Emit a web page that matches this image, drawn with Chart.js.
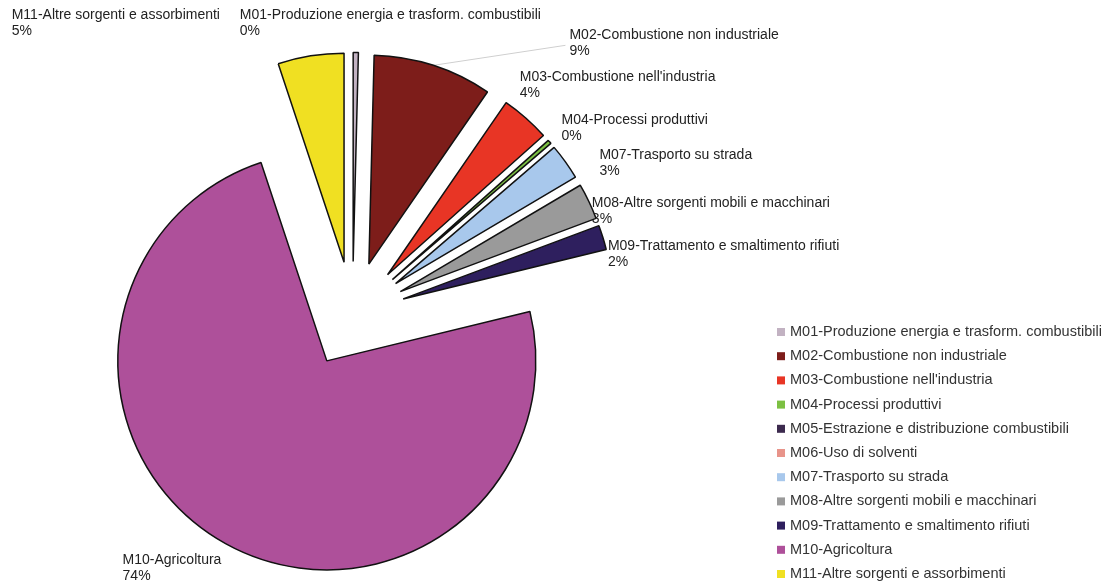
<!DOCTYPE html>
<html>
<head>
<meta charset="utf-8">
<script src="https://cdn.jsdelivr.net/npm/chart.js@4.4.1/dist/chart.umd.min.js"></script>
<style>
  body { margin: 0; background: #fff; }
  canvas { display: block; }
</style>
</head>
<body>
<canvas id="torta" width="1103" height="584"></canvas>
<script>
// macrosettori e quota percentuale delle emissioni
const categories = [
  'M01-Produzione energia e trasform. combustibili',
  'M02-Combustione non industriale',
  "M03-Combustione nell'industria",
  'M04-Processi produttivi',
  'M05-Estrazione e distribuzione combustibili',
  'M06-Uso di solventi',
  'M07-Trasporto su strada',
  'M08-Altre sorgenti mobili e macchinari',
  'M09-Trattamento e smaltimento rifiuti',
  'M10-Agricoltura',
  'M11-Altre sorgenti e assorbimenti'
];
const shares = [0.4, 9.2, 3.8, 0.3, 0, 0, 2.8, 2.8, 1.9, 73.7, 5.1];

const sliceColors = [
  '#c2b2c2', '#7d1d1a', '#e83525', '#7cc042', '#3c2a4e', '#e8948a',
  '#a8c8ec', '#9a9a9a', '#2e1f5e', '#ae509a', '#f0e022'
];

// spostamento delle etichette rispetto alla punta di ogni fetta (null = nessuna etichetta)
const labelShift = [
  [-116, -37], [136, -30], [-6, -41], [12, -22], null, null,
  [34, -7], [3, 2], [5, 9], [-103, 16], [-299, -41]
];
// fette con linea di richiamo verso l'etichetta
const withLeader = [false, true, false, false, false, false, false, false, false, false, false];

const FONT = '14px "Liberation Sans", Arial, sans-serif';

// tutte le fette staccate dal centro della stessa distanza
const explode = {
  id: 'explode',
  afterDatasetUpdate(chart, args, opts) {
    args.meta.data.forEach(arc => {
      const mid = (arc.startAngle + arc.endAngle) / 2;
      arc.x += Math.cos(mid) * opts.distance;
      arc.y += Math.sin(mid) * opts.distance;
    });
  }
};

// nome + percentuale vicino ad ogni fetta
const sliceLabels = {
  id: 'sliceLabels',
  beforeDatasetsDraw(chart, args, opts) {
    const ctx = chart.ctx;
    const arcs = chart.getDatasetMeta(0).data;
    const values = chart.data.datasets[0].data;
    const total = values.reduce((a, b) => a + b, 0);
    ctx.save();
    ctx.font = FONT;
    ctx.textBaseline = 'middle';
    ctx.textAlign = 'left';
    arcs.forEach((arc, i) => {
      const s = opts.shift[i];
      if (!s) return;
      const mid = (arc.startAngle + arc.endAngle) / 2;
      const tx = arc.x + Math.cos(mid) * arc.outerRadius;
      const ty = arc.y + Math.sin(mid) * arc.outerRadius;
      const x = tx + s[0];
      const y = ty + s[1];
      if (opts.leaders[i]) {
        ctx.strokeStyle = '#cfcfcf';
        ctx.lineWidth = 1;
        ctx.beginPath();
        ctx.moveTo(tx, ty);
        ctx.lineTo(x - 4, y + 10);
        ctx.stroke();
      }
      ctx.fillStyle = '#222';
      ctx.fillText(chart.data.labels[i], x, y);
      ctx.fillText(Math.round(values[i] / total * 100) + '%', x, y + opts.lineHeight);
    });
    ctx.restore();
  }
};

// legenda a destra, in basso
const sideLegend = {
  id: 'sideLegend',
  afterDraw(chart, args, opts) {
    const ctx = chart.ctx;
    const colors = chart.data.datasets[0].backgroundColor;
    ctx.save();
    ctx.font = opts.font;
    ctx.textBaseline = 'middle';
    chart.data.labels.forEach((label, i) => {
      const y = opts.top + i * opts.rowHeight;
      ctx.fillStyle = colors[i];
      ctx.fillRect(opts.left, y - 4, 8, 8);
      ctx.fillStyle = '#333';
      ctx.fillText(label, opts.left + 13, y);
    });
    ctx.restore();
  }
};

new Chart(document.getElementById('torta'), {
  type: 'pie',
  data: {
    labels: categories,
    datasets: [{
      data: shares,
      backgroundColor: sliceColors,
      borderColor: '#111',
      borderWidth: 1.5
    }]
  },
  options: {
    responsive: false,
    devicePixelRatio: 1,
    animation: false,
    radius: 209,
    layout: { padding: { left: 0, right: 398, top: 45, bottom: 0 } },
    plugins: {
      legend: { display: false },
      tooltip: { enabled: false },
      explode: { distance: 53 },
      sliceLabels: { shift: labelShift, leaders: withLeader, lineHeight: 16 },
      sideLegend: { left: 777, top: 332, rowHeight: 24.2, font: '14.5px "Liberation Sans", Arial, sans-serif' }
    }
  },
  plugins: [explode, sliceLabels, sideLegend]
});
</script>
</body>
</html>
